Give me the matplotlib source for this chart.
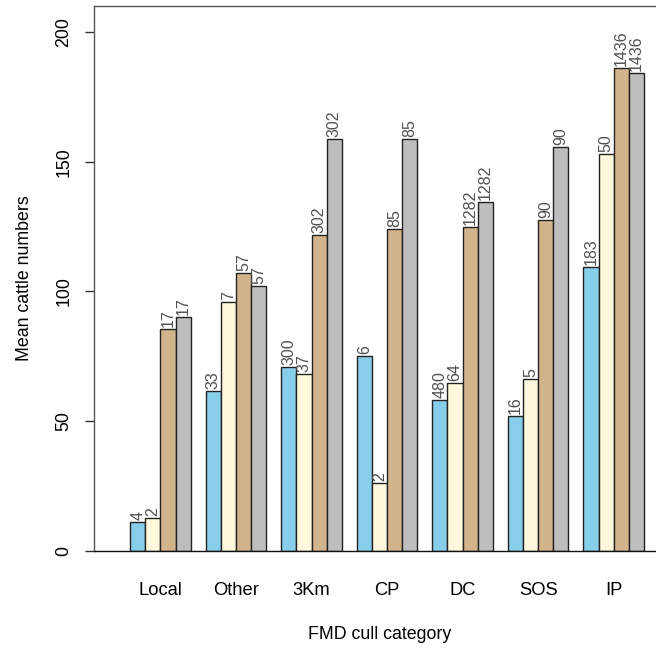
import numpy as np
import matplotlib
matplotlib.use("Agg")
import matplotlib.pyplot as plt

plt.rcParams['font.family'] = ['Liberation Sans', 'DejaVu Sans']

# mean cattle numbers per cull category, four series side by side
categories = ['Local', 'Other', '3Km', 'CP', 'DC', 'SOS', 'IP']
series_a = [11.3, 61.8, 70.8, 75.1, 58.2, 52.0, 109.3]
series_b = [12.8, 95.8, 68.1, 26.1, 64.6, 66.3, 152.9]
series_c = [85.7, 107.2, 121.8, 124.2, 124.9, 127.7, 186.0]
series_d = [90.0, 102.2, 158.7, 158.9, 134.5, 155.6, 184.2]

# counts written on top of each bar
counts_a = [4, 33, 300, 6, 480, 16, 183]
counts_b = [2, 7, 37, 2, 64, 5, 50]
counts_c = [17, 57, 302, 85, 1282, 90, 1436]
counts_d = [17, 57, 302, 85, 1282, 90, 1436]

colours = ['#87CEEB', '#FFF8DC', '#D2B48C', '#BEBEBE']

W, H = 656, 648
fig = plt.figure(figsize=(W / 100, H / 100), dpi=100)
ax = fig.add_axes([94 / W, (H - 551) / H, 571 / W, 545 / H])

values = [series_a, series_b, series_c, series_d]
counts = [counts_a, counts_b, counts_c, counts_d]

# R-style beside barplot: bar width 1, one bar gap between groups
n = len(categories)
starts = 1 + 5 * np.arange(n)
for i in range(4):
    x = starts + i + 0.5
    ax.bar(x, values[i], width=1.0, color=colours[i], edgecolor='#222222',
           linewidth=1.0)
    for xx, v, c in zip(x, values[i], counts[i]):
        ax.text(xx, v + 0.8, str(c), rotation=90, ha='center', va='bottom',
                fontsize=11.5, color='#505050')

ax.set_xlim(-1.4, 36.4)
ax.set_ylim(0, 210)

ax.set_xticks(starts + 2)
ax.set_xticklabels(categories, fontsize=13.2)
ax.tick_params(axis='x', length=0, pad=22)

ax.set_yticks([0, 50, 100, 150, 200])
ax.set_yticklabels(['0', '50', '100', '150', '200'], rotation=90, va='center',
                   fontsize=12.8)
ax.tick_params(axis='y', length=6.5, width=1, pad=9, color='#333333')

for s in ax.spines.values():
    s.set_color('#555555')
    s.set_linewidth(1.0)
ax.spines['bottom'].set_color('#111111')

ax.set_xlabel('FMD cull category', fontsize=12.8)
ax.set_ylabel('Mean cattle numbers', fontsize=12.8)
ax.xaxis.set_label_coords(0.5, -0.137)
ax.yaxis.set_label_coords(-0.106, 0.5)

fig.savefig('out.png', dpi=100)
